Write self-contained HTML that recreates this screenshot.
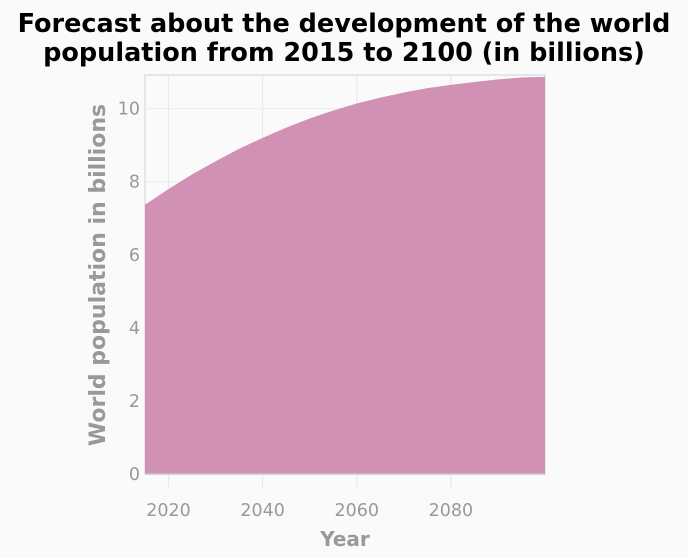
<!DOCTYPE html>
<html><head><meta charset="utf-8"><style>
body{margin:0;background:#fafafa;}
svg{display:block;font-family:"DejaVu Sans","Liberation Sans",sans-serif;}
</style></head><body>
<svg id="c" width="688" height="558">
<rect width="688" height="558" fill="#fafafa"/>
<text x="344" y="32" text-anchor="middle" font-size="25.5" font-weight="bold" fill="#000">Forecast about the development of the world</text>
<text x="344" y="61" text-anchor="middle" font-size="25.5" font-weight="bold" fill="#000">population from 2015 to 2100 (in billions)</text>
<g id="grid"></g><g id="area"></g><g id="axes"></g>
<text x="345" y="546" text-anchor="middle" font-size="20" font-weight="bold" fill="#999">Year</text>
<text transform="translate(105,275) rotate(-90)" text-anchor="middle" font-size="22" font-weight="bold" fill="#999">World population in billions</text>
</svg>
<script>
const years=[2015,2020,2025,2030,2035,2040,2045,2050,2055,2060,2065,2070,2075,2080,2085,2090,2095,2100];
const population=[7.37,7.8,8.2,8.56,8.9,9.2,9.48,9.73,9.95,10.14,10.3,10.44,10.56,10.65,10.73,10.8,10.85,10.87];
const xTicks=[2020,2040,2060,2080];
const yTicks=[0,2,4,6,8,10];
const X0=145,X1=545,Y0=474,Y1=75,xMin=2015,xMax=2100,yMax=10.92;
const xs=v=>X0+(v-xMin)/(xMax-xMin)*(X1-X0);
const ys=v=>Y0-v/yMax*(Y0-Y1);
const NS="http://www.w3.org/2000/svg";
function mk(t,a,p){const e=document.createElementNS(NS,t);for(const k in a)e.setAttribute(k,a[k]);p.appendChild(e);return e;}
const grid=document.getElementById('grid'),area=document.getElementById('area'),axes=document.getElementById('axes');
const bg=mk('rect',{x:X0,y:Y1,width:X1-X0,height:Y0-Y1,fill:'#fafafa',stroke:'#e0e0e0','stroke-width':1.5},grid);


xTicks.forEach(t=>{
 const l=mk('line',{x1:xs(t),x2:xs(t),y1:Y1,y2:Y0+14,stroke:'#e8e8e8','stroke-width':1.2},grid);
 
 
 const tx=mk('text',{x:xs(t),y:Y0+42,'text-anchor':'middle','font-size':17.5,fill:'#999'},axes);
 tx.textContent=t;
 
 
});
yTicks.forEach(t=>{
 const l=mk('line',{x1:X0,x2:X1,y1:ys(t),y2:ys(t),stroke:'#ececec','stroke-width':1},grid);
 
 
 const tx=mk('text',{x:X0-5,y:ys(t)+6,'text-anchor':'end','font-size':17.5,fill:'#999'},axes);
 tx.textContent=t;
 
 
});
let d='M'+xs(years[0])+','+ys(0);
years.forEach((y,i)=>{d+=' L'+xs(y)+','+ys(population[i]);});
d+=' L'+xs(years[years.length-1])+','+ys(0)+' Z';
const p=mk('path',{d:d,fill:'#d191b5'},area);


const base=mk('line',{x1:X0,x2:X1,y1:Y0,y2:Y0,stroke:'#c8c8c8','stroke-width':1.5},axes);


</script>
</body></html>
